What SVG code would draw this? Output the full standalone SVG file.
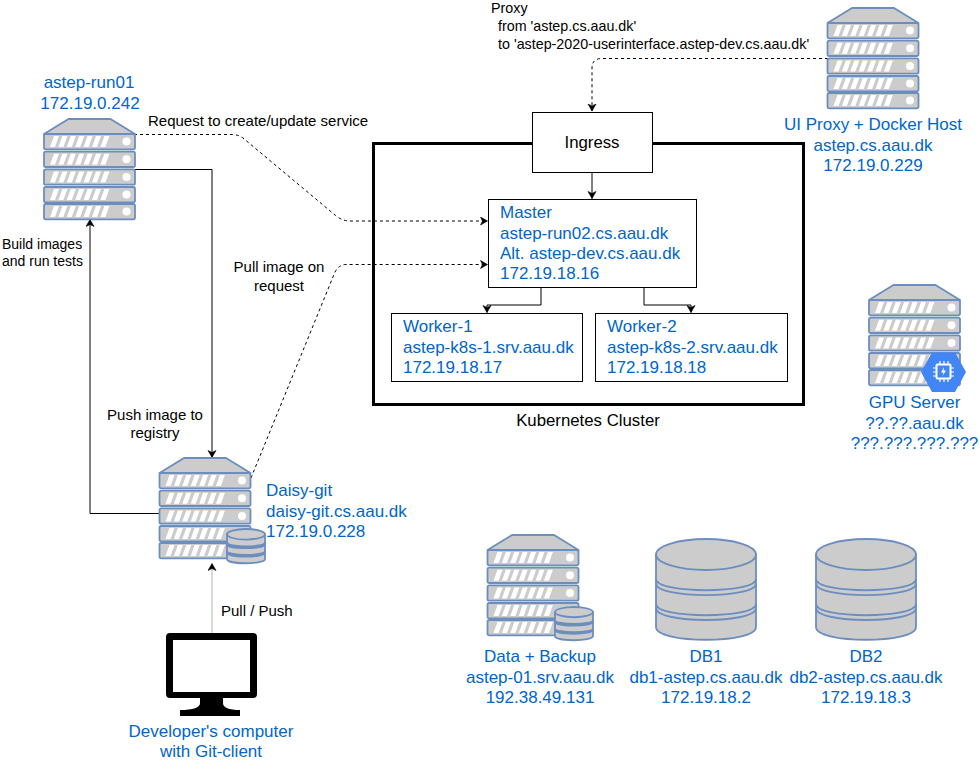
<svg xmlns="http://www.w3.org/2000/svg" width="979" height="764" viewBox="0 0 979 764">
<style>
text{font-family:"Liberation Sans",Arial,sans-serif}
.b{fill:#0066cc;font-size:17px;text-anchor:middle}
.bl{fill:#0066cc;font-size:17px}
.k{fill:#000;font-size:15px}
.km{fill:#000;font-size:15px;text-anchor:middle}
.box{fill:#fff;stroke:#000;stroke-width:1}
.c{fill:none;stroke:#000;stroke-width:1}
.d{stroke-dasharray:3 3}
.sv{fill:#cccccc;stroke:#6c8ebf;stroke-width:1.8;stroke-linejoin:round;vector-effect:non-scaling-stroke}
.ln{fill:none}
.st{fill:#fff}
</style>
<defs>
<marker id="a" markerWidth="9" markerHeight="10" refX="7.5" refY="4.5" orient="auto" markerUnits="userSpaceOnUse"><path d="M0.5,0.5L7.5,4.500L0.5,8.500L2.500,4.500Z" fill="#000" stroke="#000" stroke-width="0.6"/></marker>
<g id="unit">
<rect class="sv" x="0" y="0" width="91" height="15.300" rx="1.800"/>
<path class="st" d="M6,13 L10,2 H15 L11,13 Z M14.400,13 L18.400,2 H23.400 L19.400,13 Z M22.800,13 L26.800,2 H31.800 L27.800,13 Z M31.200,13 L35.200,2 H40.200 L36.200,13 Z M39.600,13 L43.600,2 H48.600 L44.600,13 Z M48,13 L52,2 H57 L53,13 Z M56.400,13 L60.400,2 H65.400 L61.400,13 Z"/>
<circle class="st" cx="82.500" cy="7.600" r="4"/>
</g>
<g id="server">
<path class="sv" d="M0,15 L24.500,0 H66.500 L91,15 Z"/>
<use href="#unit" y="15"/>
<use href="#unit" y="32.700"/>
<use href="#unit" y="50.400"/>
<use href="#unit" y="68"/>
<use href="#unit" y="85"/>
</g>
<g id="cyl">
<path class="sv" d="M0,15.500 V88 C0,105 100,105 100,88 V15.500 Z"/>
<ellipse class="sv" cx="50" cy="15.500" rx="50" ry="15.500"/>
<path class="sv ln" d="M0,40 C0,55 100,55 100,40 M0,44.500 C0,60 100,60 100,44.500 M0,65 C0,80 100,80 100,65 M0,69 C0,85 100,85 100,69"/>
</g>
</defs>
<rect width="979" height="764" fill="#fff"/>

<g id="connectors">
<path class="c d" d="M828,58.500 H602 Q592,58.500 592,68 V111" marker-end="url(#a)"/>
<path class="c" d="M592,172 V198.500" marker-end="url(#a)"/>
<path class="c" d="M541,287 V305 H487 V312.500" marker-end="url(#a)"/>
<path class="c" d="M644,287 V305 H691 V312.500" marker-end="url(#a)"/>
<path class="c d" d="M134,134.500 H232 Q238,134.500 243,138 L335,215 Q342,221 350,221 H487.500" marker-end="url(#a)"/>
<path class="c d" d="M251,478 L335,272 Q339,264.500 346,264.500 H487.500" marker-end="url(#a)"/>
<path class="c" d="M134,169.500 H212 V457.500" marker-end="url(#a)"/>
<path class="c" d="M159,513.500 H90 V219.500" marker-end="url(#a)"/>
<path d="M212,633 V563.500" fill="none" stroke="#b3b3b3" stroke-width="1" marker-end="url(#a)"/>
</g>

<g id="cluster"><rect x="373.500" y="143.500" width="430" height="261" fill="none" stroke="#000" stroke-width="3"/>
<text x="588" y="426" font-size="16.800" text-anchor="middle">Kubernetes Cluster</text></g>
<g id="ingress"><rect class="box" x="532.500" y="112.500" width="120" height="60"/><text x="592" y="148" font-size="16.800" text-anchor="middle">Ingress</text></g>
<g id="master"><rect class="box" x="488.500" y="199.500" width="208" height="88"/>
<text class="bl" x="500" y="218">Master</text><text class="bl" x="500" y="239">astep-run02.cs.aau.dk</text><text class="bl" x="500" y="259">Alt. astep-dev.cs.aau.dk</text><text class="bl" x="500" y="279">172.19.18.16</text></g>
<g id="worker1"><rect class="box" x="391.500" y="313.500" width="191" height="68"/>
<text class="bl" x="403" y="332">Worker-1</text><text class="bl" x="403" y="353">astep-k8s-1.srv.aau.dk</text><text class="bl" x="403" y="373">172.19.18.17</text></g>
<g id="worker2"><rect class="box" x="595.500" y="313.500" width="192" height="68"/>
<text class="bl" x="607" y="332">Worker-2</text><text class="bl" x="607" y="353">astep-k8s-2.srv.aau.dk</text><text class="bl" x="607" y="373">172.19.18.18</text></g>

<g id="run01"><use href="#server" x="44" y="119"/>
<text class="b" x="89" y="88">astep-run01</text><text class="b" x="90" y="109">172.19.0.242</text></g>
<g id="ui-proxy"><use href="#server" x="827.500" y="8"/>
<text class="b" x="873" y="130">UI Proxy + Docker Host</text><text class="b" x="873" y="151">astep.cs.aau.dk</text><text class="b" x="873" y="171">172.19.0.229</text></g>
<g id="gpu"><use href="#server" x="869" y="285"/>
<g><path d="M921,372 L932,352.500 H955 L966,372 L955,392 H932 Z" fill="#4285f4"/>
<rect x="936.500" y="364.500" width="14" height="14" rx="1" fill="none" stroke="#fff" stroke-width="2"/>
<path d="M944,367 L941,372.500 H943.500 L942.500,376 L946,370.500 H943.500 Z" fill="#fff"/>
<path d="M940,361 V364 M944,361 V364 M948,361 V364 M940,379 V382 M944,379 V382 M948,379 V382 M933,368 H936 M933,372 H936 M933,376 H936 M951,368 H954 M951,372 H954 M951,376 H954" stroke="#fff" stroke-width="1.200" fill="none"/></g>
<text class="b" x="914.500" y="408">GPU Server</text><text class="b" x="914.500" y="429">??.??.aau.dk</text><text class="b" x="914.500" y="449">???.???.???.???</text></g>
<g id="daisy-git"><use href="#server" x="159.500" y="458"/>
<use href="#cyl" transform="translate(227,529) scale(0.38,0.34)"/>
<text class="bl" x="266" y="496">Daisy-git</text><text class="bl" x="266" y="517">daisy-git.cs.aau.dk</text><text class="bl" x="266" y="537">172.19.0.228</text></g>
<g id="data-backup"><use href="#server" x="487.500" y="535"/>
<use href="#cyl" transform="translate(555,607) scale(0.38,0.33)"/>
<text class="b" x="540" y="662">Data + Backup</text><text class="b" x="540" y="683">astep-01.srv.aau.dk</text><text class="b" x="540" y="703">192.38.49.131</text></g>
<g id="db1"><use href="#cyl" transform="translate(656,539)"/>
<text class="b" x="706" y="662">DB1</text><text class="b" x="706" y="683">db1-astep.cs.aau.dk</text><text class="b" x="706" y="703">172.19.18.2</text></g>
<g id="db2"><use href="#cyl" transform="translate(816,539)"/>
<text class="b" x="866" y="662">DB2</text><text class="b" x="866" y="683">db2-astep.cs.aau.dk</text><text class="b" x="866" y="703">172.19.18.3</text></g>
<g id="developer">
<path fill-rule="evenodd" d="M170,633 H253 Q257,633 257,637 V694 Q257,698 253,698 H223 V703 Q223,710 240,710 V716 H180 V710 Q200,710 200,703 V698 H170 Q166,698 166,694 V637 Q166,633 170,633 Z M173,640 V692 H250 V640 Z"/>
<text class="b" x="211" y="737">Developer's computer</text><text class="b" x="211" y="757">with Git-client</text></g>

<g id="labels">
<text class="k" x="148" y="126">Request to create/update service</text>
<text class="k" x="2" y="249" style="font-size:14px">Build images</text><text class="k" x="2" y="266" style="font-size:14px">and run tests</text>
<text class="km" x="279" y="272">Pull image on</text><text class="km" x="279" y="291">request</text>
<text class="km" x="155" y="420">Push image to</text><text class="km" x="155" y="438">registry</text>
<text class="k" x="221" y="616">Pull / Push</text>
<text class="k" x="491" y="13" style="font-size:14.300px">Proxy</text>
<text class="k" x="498" y="31" style="font-size:14.300px">from 'astep.cs.aau.dk'</text>
<text class="k" x="498" y="49" style="font-size:14.300px">to 'astep-2020-userinterface.astep-dev.cs.aau.dk'</text>
</g>
</svg>
